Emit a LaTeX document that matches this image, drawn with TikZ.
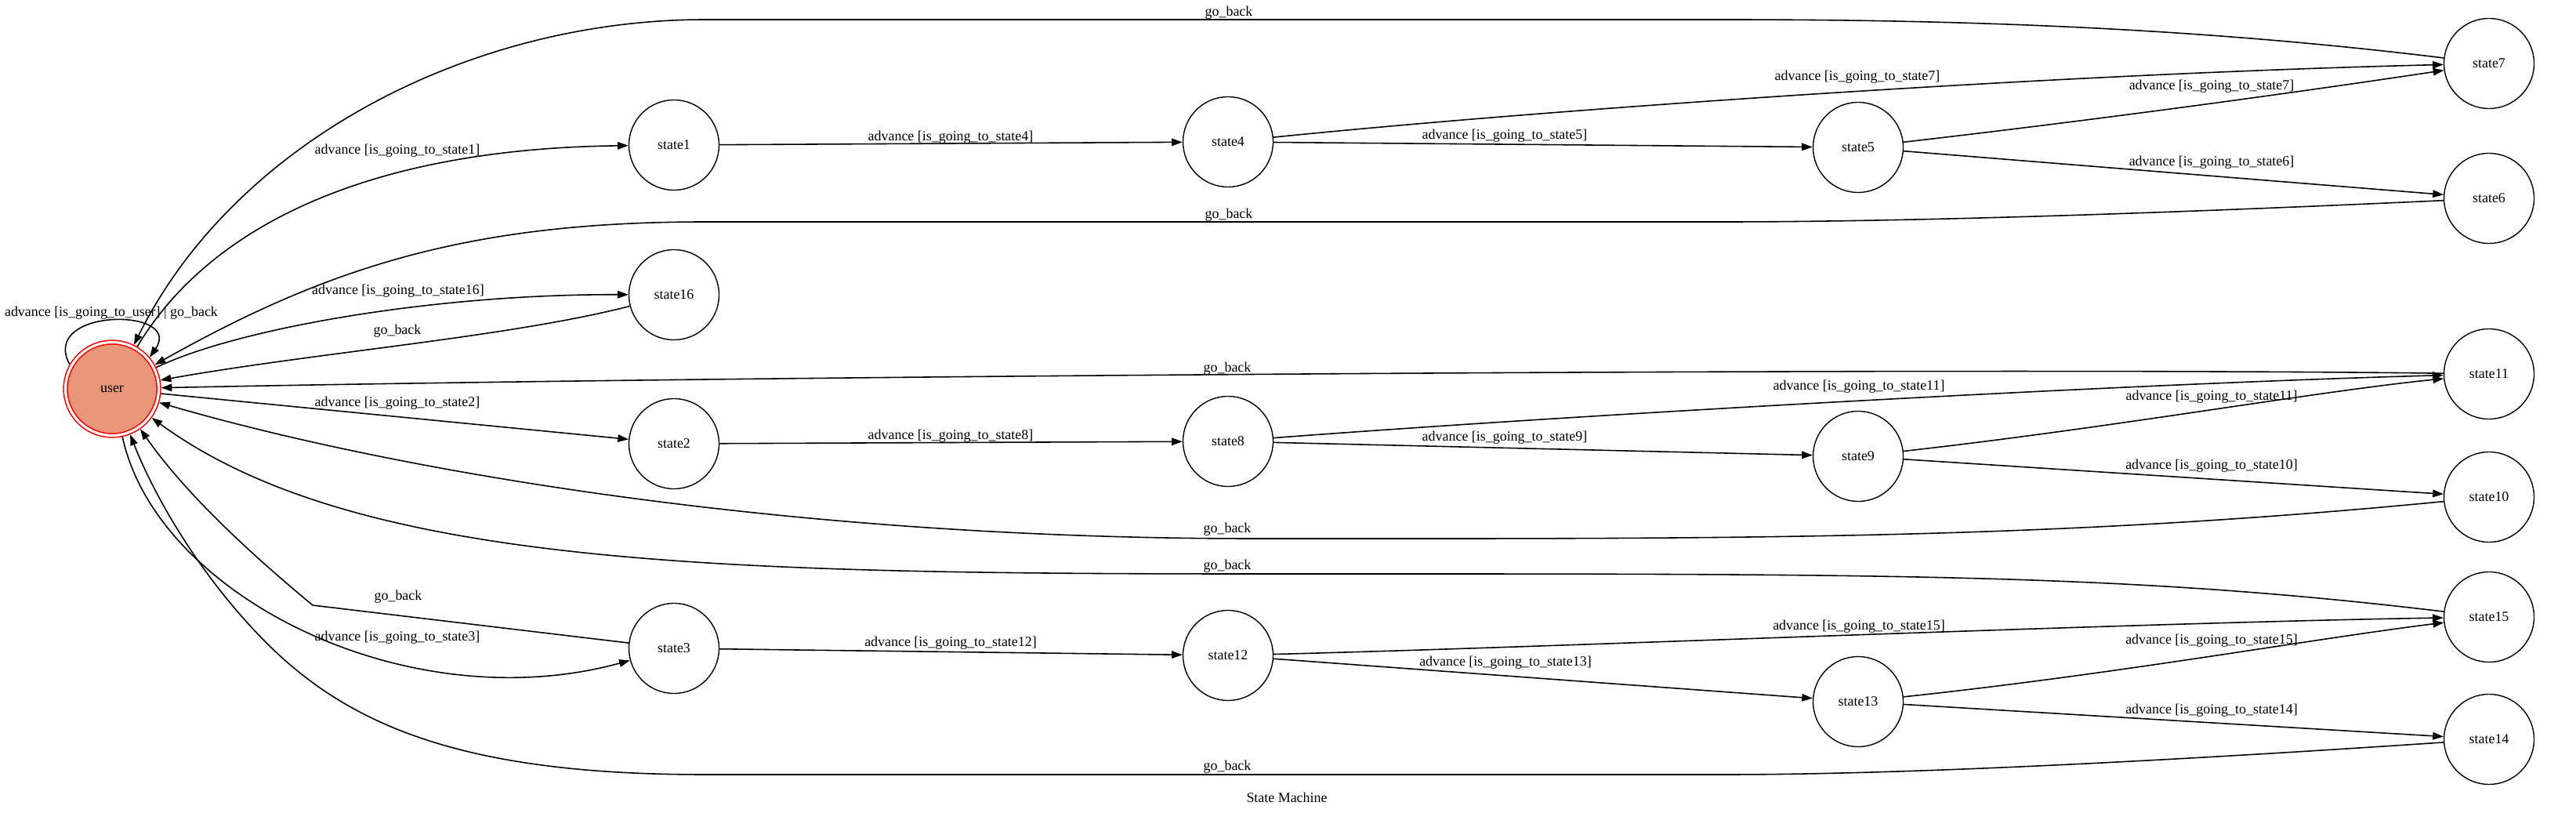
\documentclass[tikz,border=0pt]{standalone}
\usepackage{fontspec}
\setmainfont{Liberation Serif}
\usepackage{xcolor}
\usetikzlibrary{arrows.meta, positioning}
\definecolor{usersalmon}{HTML}{E9967A}

\begin{document}
\begin{tikzpicture}[
    statenode/.style={circle, draw=black, line width=0.4pt, minimum size=1.15cm, inner sep=0pt, font=\fontsize{5.1}{6}\selectfont},
    initnode/.style={circle, draw=red, double=white, double distance=0.9pt, line width=0.45pt, fill=usersalmon, minimum size=1.19cm, inner sep=0pt, outer sep=0.9pt, font=\fontsize{5.1}{6}\selectfont},
    arrow/.style={-{Triangle[length=3.9pt, width=2.7pt]}, line width=0.45pt},
    tlabel/.style={font=\fontsize{5.1}{6}\selectfont, inner sep=0pt}
]
\useasboundingbox (0,0) rectangle (32.87,-10.37);

\node (user) [initnode] at (1.43,-4.96) {user};

\node (s1) [statenode] at (8.60,-1.85) {state1};
\node (s4) [statenode] at (15.67,-1.81) {state4};
\node (s5) [statenode] at (23.71,-1.88) {state5};
\node (s7) [statenode] at (31.76,-0.81) {state7};
\node (s6) [statenode] at (31.76,-2.53) {state6};
\node (s16) [statenode] at (8.60,-3.76) {state16};
\node (s11) [statenode] at (31.76,-4.77) {state11};
\node (s2) [statenode] at (8.60,-5.66) {state2};
\node (s8) [statenode] at (15.67,-5.63) {state8};
\node (s9) [statenode] at (23.71,-5.82) {state9};
\node (s10) [statenode] at (31.76,-6.34) {state10};
\node (s15) [statenode] at (31.76,-7.87) {state15};
\node (s3) [statenode] at (8.60,-8.27) {state3};
\node (s12) [statenode] at (15.67,-8.36) {state12};
\node (s13) [statenode] at (23.71,-8.95) {state13};
\node (s14) [statenode] at (31.76,-9.43) {state14};

\node (title) [tlabel] at (16.42,-10.17) {State Machine};

% transitions out of user
\draw [arrow] (user.150) .. controls (0.50,-3.92) and (2.35,-3.92) .. (user.40) node[tlabel] at (1.42,-3.99) {advance [is\_going\_to\_user] | go\_back};
\draw [arrow] (user) .. controls (2.60,-3.00) and (4.50,-1.90) .. (s1) node[tlabel] at (5.07,-1.92) {advance [is\_going\_to\_state1]};
\draw [arrow] (user) .. controls (3.00,-4.20) and (5.50,-3.75) .. (s16) node[tlabel] at (5.08,-3.71) {advance [is\_going\_to\_state16]};
\draw [arrow] (user) -- (s2) node[tlabel] at (5.07,-5.14) {advance [is\_going\_to\_state2]};
\draw [arrow] (user) .. controls (2.00,-7.60) and (5.20,-9.20) .. (s3) node[tlabel] at (5.07,-8.13) {advance [is\_going\_to\_state3]};

% go_back to user
\draw [arrow] (s7) .. controls (28.0,-0.35) and (25.0,-0.25) .. (22.0,-0.25) -- (9.0,-0.25) .. controls (6.0,-0.25) and (3.0,-1.80) .. (user) node[tlabel] at (15.68,-0.16) {go\_back};
\draw [arrow] (s6) .. controls (27.0,-2.75) and (24.0,-2.83) .. (22.0,-2.83) -- (9.0,-2.83) .. controls (6.0,-2.83) and (4.2,-3.40) .. (user) node[tlabel] at (15.68,-2.74) {go\_back};
\draw [arrow] (s16) .. controls (6.50,-4.30) and (4.00,-4.50) .. (user) node[tlabel] at (5.07,-4.22) {go\_back};
\draw [arrow] (s11) .. controls (25.0,-4.68) and (9.0,-4.80) .. (user) node[tlabel] at (15.66,-4.70) {go\_back};
\draw [arrow] (s10) .. controls (26.0,-6.90) and (22.0,-6.87) .. (16.0,-6.87) .. controls (10.0,-6.87) and (5.0,-6.00) .. (user) node[tlabel] at (15.66,-6.75) {go\_back};
\draw [arrow] (s15) .. controls (27.0,-7.30) and (24.0,-7.32) .. (16.0,-7.32) .. controls (9.0,-7.32) and (4.5,-7.20) .. (user) node[tlabel] at (15.66,-7.22) {go\_back};
\draw [arrow] (s3) -- (3.99,-7.72) .. controls (3.00,-6.90) and (2.30,-6.20) .. (user) node[tlabel] at (5.08,-7.61) {go\_back};
\draw [arrow] (s14) .. controls (27.0,-9.75) and (24.0,-9.88) .. (22.0,-9.88) -- (9.0,-9.88) .. controls (6.0,-9.88) and (4.5,-9.30) .. (3.4,-8.2) .. controls (2.6,-7.4) and (2.0,-6.4) .. (user) node[tlabel] at (15.66,-9.78) {go\_back};

% upper branch
\draw [arrow] (s1) -- (s4) node[tlabel] at (12.13,-1.75) {advance [is\_going\_to\_state4]};
\draw [arrow] (s4) -- (s5) node[tlabel] at (19.20,-1.73) {advance [is\_going\_to\_state5]};
\draw [arrow] (s4) .. controls (19.50,-1.42) and (26.00,-0.95) .. (s7) node[tlabel] at (23.70,-0.98) {advance [is\_going\_to\_state7]};
\draw [arrow] (s5) .. controls (27.00,-1.50) and (29.50,-1.15) .. (s7) node[tlabel] at (28.22,-1.10) {advance [is\_going\_to\_state7]};
\draw [arrow] (s5) -- (s6) node[tlabel] at (28.22,-2.07) {advance [is\_going\_to\_state6]};

% middle branch
\draw [arrow] (s2) -- (s8) node[tlabel] at (12.13,-5.56) {advance [is\_going\_to\_state8]};
\draw [arrow] (s8) -- (s9) node[tlabel] at (19.20,-5.58) {advance [is\_going\_to\_state9]};
\draw [arrow] (s8) .. controls (20.00,-5.30) and (27.00,-4.90) .. (s11) node[tlabel] at (23.72,-4.93) {advance [is\_going\_to\_state11]};
\draw [arrow] (s9) .. controls (27.00,-5.45) and (29.50,-5.00) .. (s11) node[tlabel] at (28.22,-5.06) {advance [is\_going\_to\_state11]};
\draw [arrow] (s9) -- (s10) node[tlabel] at (28.22,-5.94) {advance [is\_going\_to\_state10]};

% lower branch
\draw [arrow] (s3) -- (s12) node[tlabel] at (12.13,-8.20) {advance [is\_going\_to\_state12]};
\draw [arrow] (s12) .. controls (20.00,-8.25) and (27.00,-7.95) .. (s15) node[tlabel] at (23.72,-7.99) {advance [is\_going\_to\_state15]};
\draw [arrow] (s12) -- (s13) node[tlabel] at (19.21,-8.45) {advance [is\_going\_to\_state13]};
\draw [arrow] (s13) .. controls (27.00,-8.60) and (29.50,-8.15) .. (s15) node[tlabel] at (28.22,-8.17) {advance [is\_going\_to\_state15]};
\draw [arrow] (s13) -- (s14) node[tlabel] at (28.22,-9.06) {advance [is\_going\_to\_state14]};

\end{tikzpicture}
\end{document}
